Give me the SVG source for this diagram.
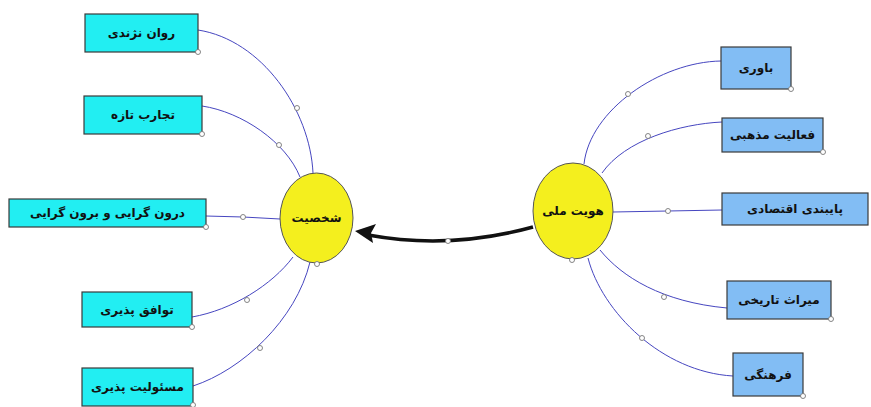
<svg xmlns="http://www.w3.org/2000/svg" width="871" height="407" viewBox="0 0 871 407">
<style>
.bg{fill:#ffffff}
.cy{fill:#22EEF2;stroke:#3a3a3a;stroke-width:1.2}
.bl{fill:#82BDF4;stroke:#3a3a3a;stroke-width:1.2}
.el{fill:#F4EF1E;stroke:#555555;stroke-width:1}
.t{font-family:"DejaVu Sans","Noto Sans",sans-serif;font-weight:bold;font-size:12px;fill:#111111;text-anchor:middle;direction:rtl}
.c{fill:none;stroke:#4646C0;stroke-width:1}
.h{fill:#ffffff;stroke:#777777;stroke-width:0.9}
.main{fill:none;stroke:#111111;stroke-width:3.5}
</style>
<rect class="bg" x="0" y="0" width="871" height="407"/>
<g id="connectors">
  <path class="c" d="M198,30 C262,40 310,110 313,173"/>
  <path class="c" d="M202,106 C242,112 286,142 300,177"/>
  <path class="c" d="M206,216 L243,217 L280,219"/>
  <path class="c" d="M192,317 C232,310 272,285 293,257"/>
  <path class="c" d="M193,386 C242,370 296,320 310,262"/>
  <path class="c" d="M721,61 C660,62 590,110 584,164"/>
  <path class="c" d="M722,122 C680,124 625,140 602,173"/>
  <path class="c" d="M722,210 L668,211 L613,212"/>
  <path class="c" d="M600,250 C622,277 662,302 727,308"/>
  <path class="c" d="M588,258 C602,312 662,372 733,376"/>
  <circle class="h" cx="297" cy="108" r="2.5"/>
  <circle class="h" cx="279" cy="145" r="2.5"/>
  <circle class="h" cx="243" cy="217" r="2.5"/>
  <circle class="h" cx="247" cy="300" r="2.5"/>
  <circle class="h" cx="260" cy="348" r="2.5"/>
  <circle class="h" cx="628" cy="94" r="2.5"/>
  <circle class="h" cx="648" cy="136" r="2.5"/>
  <circle class="h" cx="668" cy="211" r="2.5"/>
  <circle class="h" cx="664" cy="297" r="2.5"/>
  <circle class="h" cx="642" cy="338" r="2.5"/>
  <path class="main" d="M533,227 Q450,250 368,235"/>
  <polygon points="355,231 376,224 371,233 373,243" fill="#111111"/>
  <circle class="h" cx="448" cy="241" r="2.5"/>
</g>
<g id="n-personality">
  <ellipse class="el" cx="316.5" cy="218" rx="36.5" ry="45"/>
  <text class="t" x="316.5" y="222">شخصیت</text>
  <circle class="h" cx="317" cy="264" r="2.5"/>
</g>
<g id="n-identity">
  <ellipse class="el" cx="573" cy="211" rx="40" ry="48"/>
  <text class="t" x="573" y="215">هویت ملی</text>
  <circle class="h" cx="572" cy="260" r="2.5"/>
</g>
<g id="n-l1">
  <rect class="cy" x="85" y="14" width="113" height="38"/>
  <text class="t" x="141.5" y="37">روان نژندی</text>
  <circle class="h" cx="198" cy="52" r="2.5"/>
</g>
<g id="n-l2">
  <rect class="cy" x="84" y="96" width="118" height="38"/>
  <text class="t" x="143" y="119">تجارب تازه</text>
  <circle class="h" cx="202" cy="134" r="2.5"/>
</g>
<g id="n-l3">
  <rect class="cy" x="9" y="199" width="197" height="28"/>
  <text class="t" x="107.5" y="217">درون گرایی و برون گرایی</text>
  <circle class="h" cx="206" cy="227" r="2.5"/>
</g>
<g id="n-l4">
  <rect class="cy" x="82" y="292" width="110" height="35"/>
  <text class="t" x="137" y="314">توافق پذیری</text>
  <circle class="h" cx="192" cy="327" r="2.5"/>
</g>
<g id="n-l5">
  <rect class="cy" x="82" y="368" width="111" height="38"/>
  <text class="t" x="137.5" y="391">مسئولیت پذیری</text>
  <circle class="h" cx="193" cy="405" r="2.5"/>
</g>
<g id="n-r1">
  <rect class="bl" x="721" y="47" width="70" height="42"/>
  <text class="t" x="756" y="72">باوری</text>
  <circle class="h" cx="791" cy="89" r="2.5"/>
</g>
<g id="n-r2">
  <rect class="bl" x="722" y="118" width="101" height="34"/>
  <text class="t" x="772.5" y="139">فعالیت مذهبی</text>
  <circle class="h" cx="823" cy="152" r="2.5"/>
</g>
<g id="n-r3">
  <rect class="bl" x="722" y="193" width="146" height="32"/>
  <text class="t" x="795" y="213">پایبندی اقتصادی</text>
</g>
<g id="n-r4">
  <rect class="bl" x="727" y="281" width="104" height="38"/>
  <text class="t" x="779" y="304">میراث تاریخی</text>
  <circle class="h" cx="831" cy="319" r="2.5"/>
</g>
<g id="n-r5">
  <rect class="bl" x="733" y="353" width="70" height="43"/>
  <text class="t" x="768" y="379">فرهنگی</text>
  <circle class="h" cx="803" cy="396" r="2.5"/>
</g>
</svg>
